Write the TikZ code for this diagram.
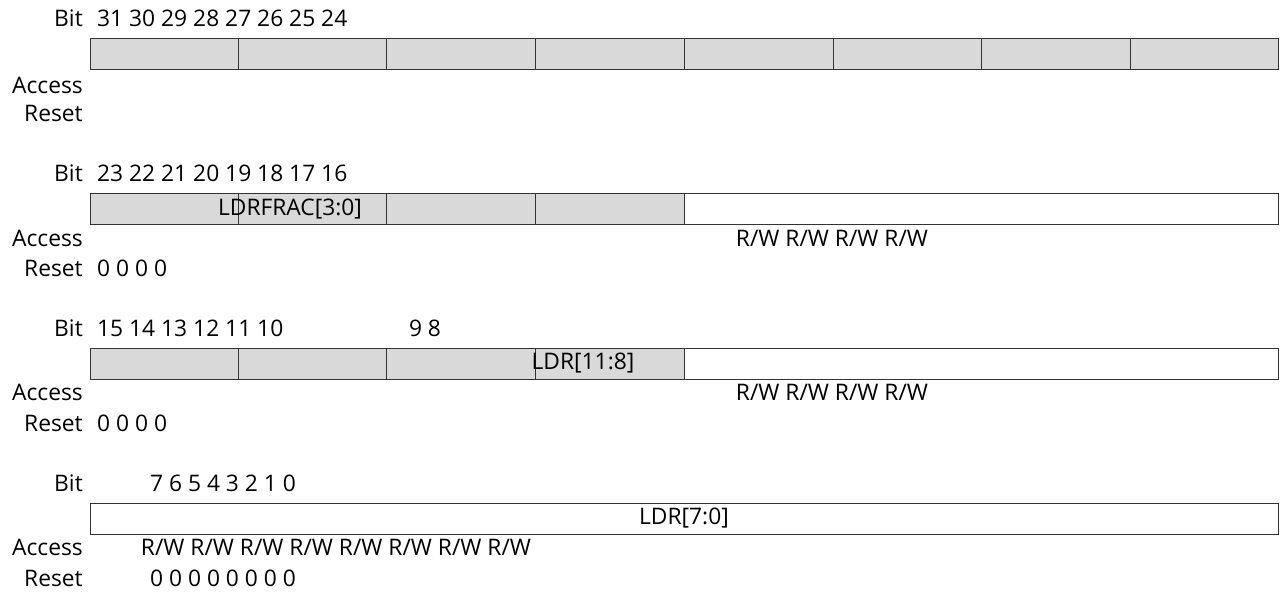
\documentclass[tikz,border=0pt]{standalone}
\usepackage{fontspec}
\setmainfont{Open Sans}
\begin{document}
\begin{tikzpicture}[x=1pt,y=-1pt,
  lbl/.style={anchor=east,inner sep=0pt,font=\fontsize{22.8}{26}\selectfont},
  txt/.style={inner sep=0pt,font=\fontsize{22.8}{26}\selectfont},
  gcell/.style={draw=black!80,fill=black!15,line width=0.8pt},
  wcell/.style={draw=black!80,fill=white,line width=0.8pt}]
\useasboundingbox (0,0) rectangle (1282,592);
% row 1
\foreach \a/\b [count=\i] in {90/238,238/386,386/535,535/684,684/833,833/981,981/1130,1130/1278}
  \draw[gcell] (\a,38) rectangle (\b,69);
\node[lbl] (b1) at (83,18) {Bit};
\node[txt,anchor=west] (n1) at (97,18) {31 30 29 28 27 26 25 24};
\node[lbl] (a1) at (83,85) {Access};
\node[lbl] (r1) at (83,113) {Reset};
% row 2
\foreach \a/\b in {90/238,238/386,386/535,535/684}
  \draw[gcell] (\a,193) rectangle (\b,224);
\draw[wcell] (684,193) rectangle (1278,224);
\node[lbl] (b2) at (83,173) {Bit};
\node[txt,anchor=west] (n2) at (97,173) {23 22 21 20 19 18 17 16};
\node[txt] (f2) at (290,209) {LDRFRAC[3:0]};
\node[lbl] (a2) at (83,238) {Access};
\node[txt] (w2) at (832,238) {R/W R/W R/W R/W};
\node[lbl] (r2) at (83,268) {Reset};
\node[txt,anchor=west] (z2) at (97,268) {0 0 0 0};
% row 3
\foreach \a/\b in {90/238,238/386,386/535,535/684}
  \draw[gcell] (\a,348) rectangle (\b,379);
\draw[wcell] (684,348) rectangle (1278,379);
\node[lbl] (b3) at (83,328) {Bit};
\node[txt,anchor=west] (n3) at (97,328) {15 14 13 12 11 10};
\node[txt] (n3b) at (425,328) {9 8};
\node[txt] (f3) at (583,363) {LDR[11:8]};
\node[lbl] (a3) at (83,392) {Access};
\node[txt] (w3) at (832,392) {R/W R/W R/W R/W};
\node[lbl] (r3) at (83,423) {Reset};
\node[txt,anchor=west] (z3) at (97,423) {0 0 0 0};
% row 4
\draw[wcell] (90,503) rectangle (1278,534);
\node[lbl] (b4) at (83,483) {Bit};
\node[txt] (n4) at (223,483) {7 6 5 4 3 2 1 0};
\node[txt] (f4) at (684,518) {LDR[7:0]};
\node[lbl] (a4) at (83,547) {Access};
\node[txt] (w4) at (336,547) {R/W R/W R/W R/W R/W R/W R/W R/W};
\node[lbl] (r4) at (83,578) {Reset};
\node[txt] (z4) at (223,578) {0 0 0 0 0 0 0 0};
\end{tikzpicture}
\end{document}
